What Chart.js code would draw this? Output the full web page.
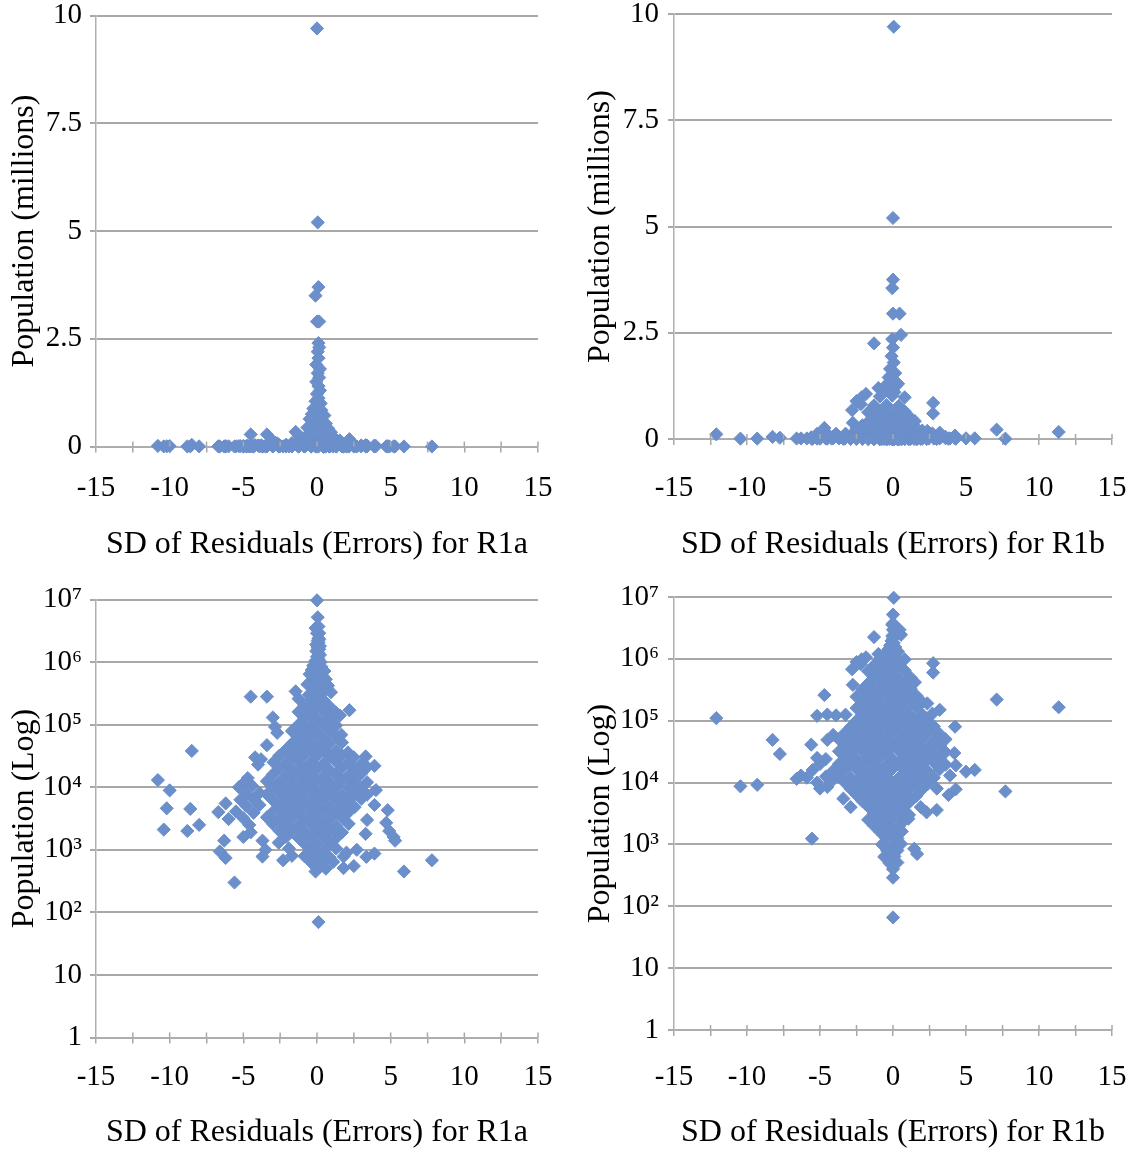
<!DOCTYPE html>
<html><head><meta charset="utf-8">
<script src="https://cdn.jsdelivr.net/npm/chart.js@4.4.0/dist/chart.umd.min.js"></script>
<style>
html,body{margin:0;padding:0;background:#fff;width:1133px;height:1152px;overflow:hidden}
.p{position:absolute}
</style></head><body>
<div class="p" style="left:0;top:0"><canvas id="c1" width="566" height="575"></canvas></div>
<div class="p" style="left:566px;top:0"><canvas id="c2" width="567" height="575"></canvas></div>
<div class="p" style="left:0;top:575px"><canvas id="c3" width="566" height="577"></canvas></div>
<div class="p" style="left:566px;top:575px"><canvas id="c4" width="567" height="577"></canvas></div>
<script>
// ---- data: [SD of residual, population] ----
const r1aPoints = [
[0.0,9700000],[0.05,5200000],[0.1,3700000],[-0.1,3500000],[0.0,2900000],[0.15,2900000],[0.1,2400000],[0.15,2300000],[0.05,2200000],[0.1,2050000],[-0.05,1900000],[0.2,1800000],[0.05,1700000],[0.15,1600000],[-0.05,1500000],[0.1,1400000],[0.2,1300000],[0.0,1220000],[0.1,1120000],[-0.1,1050000],[0.25,1000000],[0.05,930000],[-0.25,880000],[0.3,840000],[0.1,790000],[-0.35,750000],[0.5,720000],[0.15,680000],[-0.5,640000],[0.35,610000],[-0.05,570000],[0.6,530000],[-0.3,500000],[0.25,470000],[-0.65,440000],[0.75,420000],[0.05,400000],[-0.2,360000],[0.45,340000],[-1.45,340000],[0.95,330000],[-4.5,280000],[-3.4,280000],[-0.55,300000],[0.2,290000],
[-1.25,260000],[-0.4,250000],[0.45,245000],
[-0.85,200000],[0.0,205000],[0.85,195000],
[-1.25,160000],[-0.4,158000],[0.45,162000],[1.3,155000],[2.2,170000],[-3.0,130000],
[-0.85,126000],[0.0,124000],[0.85,128000],[1.55,140000],
[-1.25,100000],[-0.4,98000],[0.45,102000],[1.3,97000],[-2.85,92000],
[-1.7,79000],[-0.85,80000],[0.0,78000],[0.85,81000],[-2.7,74000],
[-1.25,63000],[-0.4,64000],[0.45,62000],[1.3,65000],[1.65,69000],
[-1.7,50000],[-0.85,51000],[0.0,49000],[0.85,50000],[1.7,52000],[-3.4,47000],
[-2.1,40000],[-1.25,39000],[-0.4,41000],[0.45,40000],[1.3,38000],[2.1,36000],[-8.5,38000],
[-2.55,32000],[-1.7,31000],[-0.85,33000],[0.0,32000],[0.85,31500],[1.7,32500],[2.5,30000],[-4.2,30000],[-3.8,28000],[3.3,31000],
[-2.95,25000],[-2.1,24500],[-1.25,25500],[-0.4,25000],[0.45,24000],[1.3,25500],[2.15,24500],[3.0,23000],[3.9,22000],[-4.0,23000],
[-2.55,20000],[-1.7,19500],[-0.85,20500],[0.0,20000],[0.85,19000],[1.7,20500],[2.55,19500],[3.4,21000],
[-3.0,16000],[-2.1,15500],[-1.25,16500],[-0.4,16000],[0.45,15000],[1.3,16000],[2.15,15500],[3.0,16500],[-4.7,14000],
[-3.4,12500],[-2.55,12000],[-1.7,13000],[-0.85,12500],[0.0,12600],[0.85,12000],[1.7,13000],[2.55,12500],[3.4,12000],[-5.0,11500],[-10.8,13000],
[-5.3,10000],[-4.4,10500],[-3.0,10000],[-2.1,9800],[-1.25,10200],[-0.4,10000],[0.45,9700],[1.3,10300],[2.15,10000],[3.0,9600],[4.0,9000],
[-4.8,7900],[-3.9,8100],[-3.4,7700],[-2.55,8000],[-1.7,7900],[-0.85,8100],[0.0,7800],[0.85,8000],[1.7,7700],[2.55,8000],[3.4,7600],[-10.0,8900],
[-5.2,6300],[-4.3,6500],[-3.0,6200],[-2.1,6400],[-1.25,6300],[-0.4,6200],[0.45,6400],[1.3,6300],[2.15,6100],[3.0,6500],
[-6.2,5500],[-4.8,5000],[-3.9,5200],[-2.55,5000],[-1.7,4900],[-0.85,5100],[0.0,5000],[0.85,4900],[1.7,5100],[2.55,4800],[3.9,5200],
[-6.7,4000],[-5.5,4100],[-4.3,3900],[-3.0,4000],[-2.1,4100],[-1.25,3900],[-0.4,4000],[0.45,4100],[1.3,3900],[2.15,4000],[4.8,4300],[-10.2,4600],[-8.6,4500],
[-6.0,3100],[-5.0,3200],[-3.4,3300],[-2.55,3100],[-1.7,3200],[-0.85,3150],[0.0,3200],[0.85,3100],[1.7,3250],[3.4,3000],
[-8.0,2500],[-4.6,2500],[-3.0,2600],[-2.1,2500],[-1.25,2450],[-0.4,2550],[0.45,2500],[1.3,2400],[2.15,2600],[4.7,2700],
[-10.4,2100],[-8.8,2000],[-4.5,1900],[-2.55,2000],[-1.7,2000],[-0.85,1950],[0.0,2050],[0.85,2000],[1.7,1900],[3.3,1800],[4.9,2000],
[-5.0,1600],[-2.1,1600],[-1.25,1550],[-0.4,1600],[0.45,1650],[1.3,1550],[5.2,1600],
[-6.3,1400],[-3.7,1400],[-2.6,1300],[-0.85,1250],[0.0,1260],[0.85,1300],[5.3,1400],
[-3.5,1000],[-1.9,1050],[-0.4,1000],[0.45,980],[1.3,1050],[2.7,1000],
[-6.6,940],[-6.2,740],[-3.7,780],[-2.3,680],[-1.7,800],[-0.85,790],[0.0,800],[0.85,760],[1.8,780],[3.35,770],[3.9,870],[2.0,900],
[-0.4,630],[0.45,640],[1.1,640],
[0.0,500],[0.6,500],[1.8,510],[2.5,550],[-0.1,450],
[-5.6,300],[5.9,450],[7.8,680],[0.1,70]
];

const r1bPoints = [
[0.05,9700000],[0.0,5200000],[0.0,3750000],[-0.05,3550000],[0.0,2950000],[0.45,2950000],[0.55,2450000],[-1.3,2250000],[-0.05,2350000],[0.0,2150000],[-0.1,1950000],[0.05,1800000],[-0.2,1650000],[0.15,1550000],[-0.3,1450000],[0.0,1350000],[0.2,1250000],[-1.0,1200000],[-0.4,1150000],[0.1,1100000],[-1.85,1060000],[-2.15,980000],[-2.5,890000],[-2.8,680000],[2.75,850000],[2.75,600000],
[-0.5,1260000],[0.35,1300000],
[-0.9,1000000],[-0.05,1020000],[0.8,980000],
[-1.3,790000],[-0.45,800000],[0.4,780000],[-2.2,820000],
[-1.7,630000],[-0.9,640000],[-0.05,620000],[0.8,650000],
[-1.3,500000],[-0.45,510000],[0.4,490000],[1.2,500000],
[-2.75,380000],[-1.7,400000],[-0.9,410000],[-0.05,390000],[0.8,400000],[1.5,420000],
[-2.1,320000],[-1.3,310000],[-0.45,325000],[0.4,315000],[1.2,330000],[-1.8,360000],
[-4.7,260000],[-2.5,245000],[-1.7,250000],[-0.9,255000],[-0.05,250000],[0.8,245000],[1.6,255000],[0.95,280000],
[-2.1,200000],[-1.3,205000],[-0.45,195000],[0.4,200000],[1.2,205000],[2.0,200000],[2.35,190000],[7.1,220000],
[-2.5,160000],[-1.7,158000],[-0.9,162000],[-0.05,160000],[0.8,155000],[1.6,165000],[3.2,150000],[11.35,165000],
[-5.2,120000],[-4.5,126000],[-3.9,122000],[-3.25,125000],[-2.1,126000],[-1.3,124000],[-0.45,128000],[0.4,125000],[1.2,122000],[2.0,127000],[2.7,130000],
[-12.1,110000],[-2.5,100000],[-1.7,98000],[-0.9,102000],[-0.05,100000],[0.8,97000],[1.6,103000],[2.4,99000],
[-2.9,79000],[-2.1,80000],[-1.3,78000],[-0.45,81000],[0.4,79000],[1.2,80000],[2.0,78000],[2.8,81000],[4.25,80000],
[-4.1,59000],[-3.3,63000],[-2.5,64000],[-1.7,62000],[-0.9,63000],[-0.05,64000],[0.8,62000],[1.6,63000],[2.4,65000],[3.2,61000],
[-8.25,49000],[-4.5,49000],[-3.7,50000],[-2.9,51000],[-2.1,49000],[-1.3,50000],[-0.45,51000],[0.4,49000],[1.2,50000],[2.0,52000],[2.8,48000],[3.6,50000],
[-5.6,41000],[-3.3,40000],[-2.5,39000],[-1.7,41000],[-0.9,40000],[-0.05,39000],[0.8,41000],[1.6,40000],[2.4,38000],[3.2,40000],
[-3.7,32000],[-2.9,31000],[-2.1,33000],[-1.3,32000],[-0.45,31000],[0.4,32500],[1.2,31500],[2.0,32000],[2.8,30000],[3.6,31000],[4.2,30000],
[-7.75,29000],[-5.2,25000],[-4.6,24000],[-3.3,25000],[-2.5,24500],[-1.7,25500],[-0.9,25000],[-0.05,24000],[0.8,25500],[1.6,24500],[2.4,25000],[3.2,24000],
[-5.0,20000],[-3.7,20000],[-2.9,19500],[-2.1,20500],[-1.3,20000],[-0.45,19000],[0.4,20500],[1.2,19500],[2.0,20000],[2.8,21000],[3.6,19500],[4.3,19000],
[-5.5,16000],[-4.1,15500],[-3.3,16000],[-2.5,16500],[-1.7,15500],[-0.9,16000],[-0.05,16500],[0.8,15500],[1.6,16000],[2.4,15000],[3.2,16500],[5.0,15000],[5.6,16000],
[-6.3,13000],[-5.9,12000],[-4.6,12500],[-3.7,12600],[-2.9,12000],[-2.1,13000],[-1.3,12500],[-0.45,12600],[0.4,12000],[1.2,13000],[2.0,12500],[2.8,12000],[3.9,13000],
[-6.6,11500],[-5.2,10000],[-4.2,10500],[-3.3,10000],[-2.5,9800],[-1.7,10200],[-0.9,10000],[-0.05,9700],[0.8,10300],[1.6,10000],[2.4,9600],
[-10.45,8700],[-9.3,9200],[-5.0,8000],[-4.5,8500],[-2.9,7900],[-2.1,8100],[-1.3,7700],[-0.45,8000],[0.4,7900],[1.2,8100],[2.0,7800],[3.0,8000],[4.3,7800],[7.7,7200],
[-2.5,6300],[-1.7,6500],[-0.9,6200],[-0.05,6400],[0.8,6300],[1.6,6100],[3.8,6300],
[-3.4,5500],[-2.1,5000],[-1.3,5200],[-0.45,4900],[0.4,5100],[1.2,5000],
[-2.9,4000],[-1.7,4100],[-0.9,3900],[-0.05,4000],[0.8,4100],[1.9,4000],
[-1.3,3200],[-0.45,3100],[0.4,3250],[1.1,3000],[2.3,3300],[3.0,3600],
[-1.7,2500],[-0.9,2450],[-0.05,2550],[0.8,2500],[1.05,2600],
[-1.3,2000],[-0.45,2050],[0.4,1950],
[-0.9,1600],[-0.05,1580],[0.6,1620],
[-5.55,1240],[-0.45,1260],[0.3,1250],
[-0.75,1000],[0.05,980],[0.55,1020],
[-0.4,790],[0.3,800],[1.45,850],[1.65,700],
[-0.6,630],[0.1,640],
[-0.25,500],[0.3,510],
[0.0,400],[0.0,290],[0.0,66]
];

const xTickValues = [-15,-10,-5,0,5,10,15];
const linTickValues = [0,2.5,5,7.5,10];
const logTickValues = [1,10,100,1000,10000,100000,1000000,10000000];
const logTickLabels = ['1','10','10\u00B2','10\u00B3','10\u2074','10\u2075','10\u2076','10\u2077'];
const xTitles = ['SD of Residuals (Errors) for R1a','SD of Residuals (Errors) for R1b'];
const yTitles = ['Population (millions)','Population (Log)'];

// ---- drawing ----
const FONT = "'Liberation Serif','Times New Roman',serif";
const DOT = '#6b8fcb';
const GRID = '#a8a8a8';
Chart.defaults.color = '#000';

// tick marks that cross the x axis (upper part; the lower part is drawn by the scale)
const crossTicks = {
  id: 'crossTicks',
  afterDraw(chart) {
    const s = chart.scales.x, ctx = chart.ctx, y = chart.chartArea.bottom;
    ctx.save();
    ctx.strokeStyle = GRID; ctx.lineWidth = 1.5;
    s.ticks.forEach(t => {
      const px = s.getPixelForValue(t.value);
      if (Math.abs(px - chart.chartArea.left) < 1) return;
      ctx.beginPath(); ctx.moveTo(px, y - 5); ctx.lineTo(px, y); ctx.stroke();
    });
    ctx.restore();
  }
};

function panel(id, points, isLog, xTitle, yTitle, g) {
  const data = points.map(([x, p]) => ({x: x, y: isLog ? p : p / 1e6}));
  const yScale = isLog ? {
    type: 'logarithmic', min: 1, max: 1e7,
    afterBuildTicks: s => { s.ticks = logTickValues.map(v => ({value: v})); },
    ticks: {autoSkip: false, padding: g.yTickPad, color: '#000',
      font: {family: FONT, size: 29, lineHeight: 1},
      callback: v => { const i = logTickValues.indexOf(v); return i >= 0 ? logTickLabels[i] : ''; }}
  } : {
    type: 'linear', min: 0, max: 10,
    afterBuildTicks: s => { s.ticks = linTickValues.map(v => ({value: v})); },
    ticks: {autoSkip: false, padding: g.yTickPad, color: '#000',
      font: {family: FONT, size: 29, lineHeight: 1},
      callback: v => String(v)}
  };
  Object.assign(yScale, {
    grid: {color: GRID, lineWidth: 2, tickLength: 6, drawTicks: true},
    border: {color: '#b0b0b0', width: 1.5},
    title: {display: true, text: yTitle, color: '#000', font: {family: FONT, size: 32},
      padding: {top: g.yTitlePad, bottom: 0}},
    afterFit: s => { s.width = g.yW; s.paddingTop = 0; s.paddingBottom = 0; }
  });
  new Chart(document.getElementById(id), {
    type: 'scatter',
    data: {datasets: [{data: data, pointStyle: 'rectRot', pointRadius: 6.6, pointHoverRadius: 6.6,
      backgroundColor: DOT, borderColor: DOT, borderWidth: 1, clip: false}]},
    options: {
      responsive: false, animation: false, devicePixelRatio: 1,
      layout: {padding: {left: 0, top: g.top, right: g.right, bottom: 0}},
      plugins: {legend: {display: false}, tooltip: {enabled: false}},
      scales: {
        x: {type: 'linear', min: -15, max: 15,
          afterBuildTicks: s => {
            const t = [];
            for (let i = 0; i < xTickValues.length; i++) {
              t.push({value: xTickValues[i]});
              if (i < xTickValues.length - 1) t.push({value: (xTickValues[i] + xTickValues[i + 1]) / 2});
            }
            s.ticks = t;
          },
          ticks: {autoSkip: false, maxRotation: 0, padding: g.xTickPad, color: '#000',
            font: {family: FONT, size: 29, lineHeight: 1},
            callback: v => xTickValues.includes(v) ? String(v) : ''},
          grid: {drawOnChartArea: false, drawTicks: true, tickLength: 6, color: GRID, lineWidth: 1.5},
          border: {color: '#b0b0b0', width: 1.5},
          title: {display: true, text: xTitle, color: '#000', font: {family: FONT, size: 32},
            padding: {top: 0, bottom: g.xTitlePad}},
          afterFit: s => { s.height = g.xH; s.paddingLeft = 0; s.paddingRight = 0; }
        },
        y: yScale
      }
    },
    plugins: [crossTicks]
  });
}

panel('c1', r1aPoints, false, xTitles[0], yTitles[0],
  {top: 15.5, right: 28, yW: 96, xH: 128.5, xTickPad: 21, xTitlePad: 11, yTitlePad: 5.8, yTickPad: 8});
panel('c2', r1bPoints, false, xTitles[1], yTitles[0],
  {top: 14, right: 21, yW: 108, xH: 136, xTickPad: 28.5, xTitlePad: 11, yTitlePad: 15.8, yTickPad: 9});
panel('c3', r1aPoints, true, xTitles[0], yTitles[1],
  {top: 24.5, right: 28, yW: 96, xH: 114.5, xTickPad: 19, xTitlePad: 0, yTitlePad: 5.8, yTickPad: 8});
panel('c4', r1bPoints, true, xTitles[1], yTitles[1],
  {top: 22, right: 21, yW: 108, xH: 122, xTickPad: 26.5, xTitlePad: 0, yTitlePad: 15.8, yTickPad: 9});
</script>
</body></html>
